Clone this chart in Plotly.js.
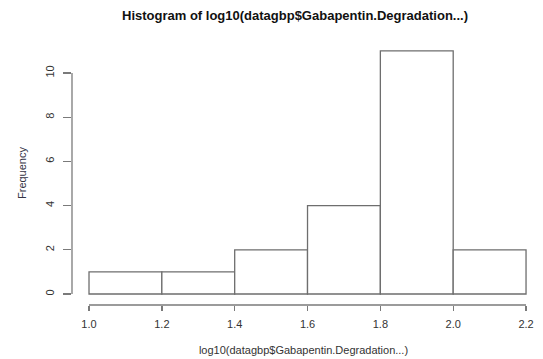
<!DOCTYPE html>
<html><head><meta charset="utf-8">
<script src="https://cdn.plot.ly/plotly-3.0.1.min.js"></script>
<style>html,body{margin:0;padding:0;background:#fff}#c{width:543px;height:359px}</style>
</head><body><div id="c"></div>
<script>
const binEdges = [1.0, 1.2, 1.4, 1.6, 1.8, 2.0, 2.2];
const counts = [1, 1, 2, 4, 11, 2];
const xTicks = [1.0, 1.2, 1.4, 1.6, 1.8, 2.0, 2.2];
const xTickText = ['1.0', '1.2', '1.4', '1.6', '1.8', '2.0', '2.2'];
const yTicks = [0, 2, 4, 6, 8, 10];
const yTickText = ['0', '2', '4', '6', '8', '10'];

const mids = counts.map((_, i) => (binEdges[i] + binEdges[i + 1]) / 2);
const widths = counts.map((_, i) => binEdges[i + 1] - binEdges[i]);

const axisColor = '#7a7a7a';
const textColor = '#333';
const font = 'Liberation Sans, Arial, sans-serif';

const trace = {
  type: 'bar', x: mids, y: counts, width: widths,
  marker: {color: '#ffffff', line: {color: '#6e6e6e', width: 1.3}},
  hoverinfo: 'skip'
};

const layout = {
  width: 543, height: 359,
  margin: {l: 72, r: 8, t: 41, b: 54},
  paper_bgcolor: '#fff', plot_bgcolor: '#fff',
  showlegend: false,
  title: {text: 'Histogram of log10(datagbp$Gabapentin.Degradation...)',
    font: {family: font, size: 13, color: '#111', weight: 'bold'},
    x: 0.5433, xref: 'container', xanchor: 'center', y: 0.958, yref: 'container', yanchor: 'middle'},
  xaxis: {range: [0.9533, 2.2246], showgrid: false, zeroline: false, showline: false,
    tickvals: xTicks, ticktext: xTickText, ticks: 'outside', ticklen: 5, tickcolor: axisColor, tickwidth: 1.3,
    ticklabelstandoff: 4,
    tickfont: {family: font, size: 11, color: textColor},
    title: {text: 'log10(datagbp$Gabapentin.Degradation...)', font: {family: font, size: 11, color: textColor}, standoff: 17}},
  yaxis: {range: [-0.498, 11.45], showgrid: false, zeroline: false, showline: false,
    tickvals: yTicks, ticktext: yTickText, ticks: 'outside', ticklen: 8, tickcolor: axisColor, tickwidth: 1.3,
    tickangle: -90, ticklabelstandoff: 5,
    tickfont: {family: font, size: 11, color: textColor},
    title: {text: 'Frequency', font: {family: font, size: 11, color: '#334'}, standoff: 14}},
  shapes: [
    {type: 'line', xref: 'paper', yref: 'y', x0: 0, x1: 0, y0: yTicks[0], y1: yTicks[yTicks.length - 1],
      line: {color: axisColor, width: 1.3}},
    {type: 'line', xref: 'x', yref: 'paper', x0: xTicks[0], x1: xTicks[xTicks.length - 1], y0: 0, y1: 0,
      line: {color: axisColor, width: 1.3}}
  ]
};

Plotly.newPlot('c', [trace], layout, {displayModeBar: false, staticPlot: true});
</script>
</body></html>
